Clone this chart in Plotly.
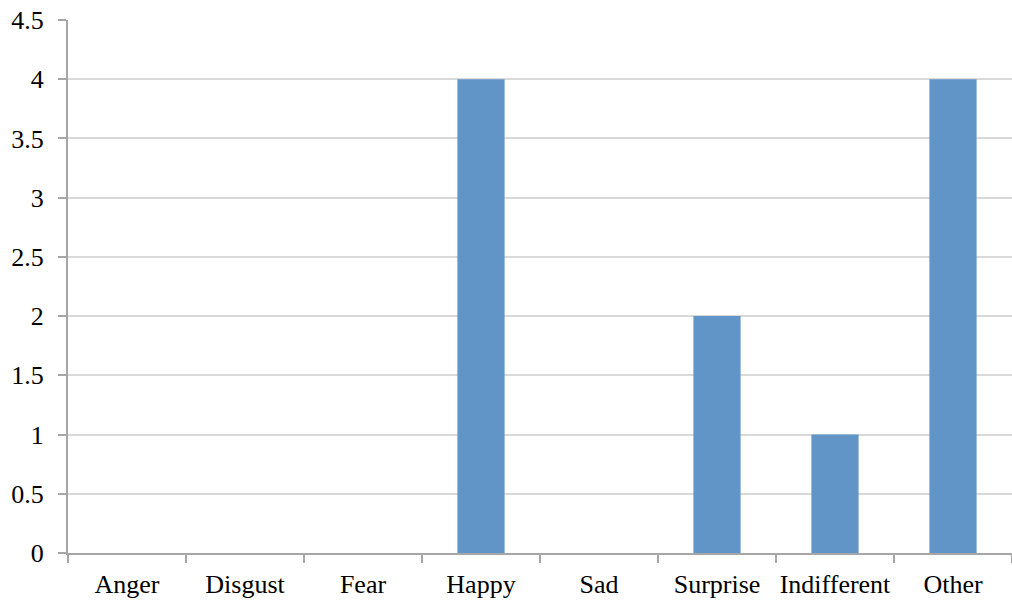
import plotly.graph_objects as go

# Emotion categories and their counts
categories = ["Anger", "Disgust", "Fear", "Happy", "Sad", "Surprise", "Indifferent", "Other"]
counts = [0, 0, 0, 4, 0, 2, 1, 4]

y_ticks = [0, 0.5, 1, 1.5, 2, 2.5, 3, 3.5, 4, 4.5]
y_tick_text = ["0", "0.5", "1", "1.5", "2", "2.5", "3", "3.5", "4", "4.5"]

fig = go.Figure(
    go.Bar(
        x=categories,
        y=counts,
        marker=dict(color="#6195C8", line=dict(width=0)),
        width=0.4,
    )
)

font = dict(family="Liberation Serif", size=26, color="#000000")

fig.update_layout(
    width=1012,
    height=601,
    margin=dict(l=68, r=0, t=20, b=48),
    paper_bgcolor="white",
    plot_bgcolor="white",
    font=font,
    showlegend=False,
    xaxis=dict(
        type="category",
        showgrid=False,
        showline=True,
        linecolor="#A6A6A6",
        linewidth=2,
        ticks="outside",
        tickson="boundaries",
        ticklen=8,
        tickcolor="#A6A6A6",
        tickwidth=2,
        tickangle=0,
        automargin=False,
        ticklabelstandoff=7,
        tickfont=font,
    ),
    yaxis=dict(
        range=[0, 4.5],
        tickvals=y_ticks,
        ticktext=y_tick_text,
        showgrid=True,
        gridcolor="#D9D9D9",
        gridwidth=2,
        showline=True,
        linecolor="#A6A6A6",
        linewidth=2,
        ticks="outside",
        ticklen=8,
        tickcolor="#A6A6A6",
        tickwidth=2,
        automargin=False,
        ticklabelstandoff=9,
        zeroline=False,
        tickfont=font,
    ),
)

fig.write_html("out.html")
